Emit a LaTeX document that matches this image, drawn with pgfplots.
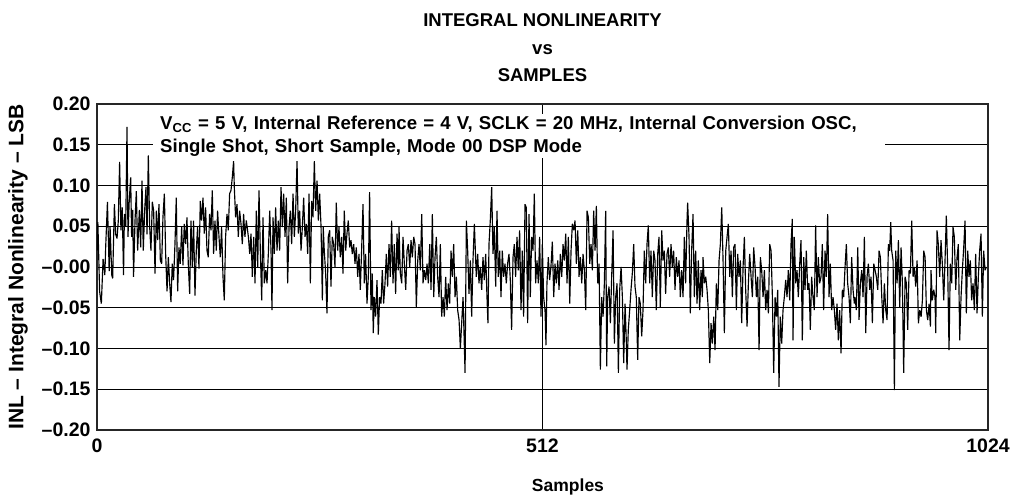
\documentclass[border=0pt]{standalone}
\usepackage{pgfplots}
\pgfplotsset{compat=1.18}
\usepackage{fontspec}
\setmainfont{Liberation Sans}
\begin{document}
\begin{tikzpicture}
\begin{axis}[
  name=ax,
  scale only axis,
  width=891pt, height=326pt,
  xmin=0, xmax=1024, ymin=-0.2, ymax=0.2,
  axis line style={line width=1.8pt, color=black!85},
  xtick={0,512,1024}, xticklabels={0,512,1024},
  ytick={-0.2,-0.15,-0.1,-0.05,0,0.05,0.1,0.15,0.2},
  yticklabels={–0.20,–0.15,–0.10,–0.05,–0.00,0.05,0.10,0.15,0.20},
  major tick length=0pt,
  xmajorgrids, ymajorgrids,
  grid style={line width=0.8pt, color=black},
  tick label style={font=\fontsize{19.5}{22}\selectfont\bfseries},
  xticklabel style={yshift=-5pt},
  yticklabel style={xshift=-3pt},
  title={INTEGRAL NONLINEARITY\\vs\\SAMPLES},
  title style={align=center, font=\fontsize{18.5}{27.5}\selectfont\bfseries, at={(axis description cs:0.5,1)}, anchor=south, yshift=16pt, inner sep=0pt},
  xlabel={Samples},
  xlabel style={font=\fontsize{17.5}{21}\selectfont\bfseries, at={(axis description cs:0.5286,-0.175)}, anchor=center},
  ylabel={INL – Integral Nonlinearity – LSB},
  ylabel style={font=\fontsize{21}{23}\selectfont\bfseries, at={(axis description cs:-0.0887,0.5)}, anchor=center, rotate=0},
]
\node[fill=white, anchor=north west, inner xsep=7pt, inner ysep=2pt, text width=718pt, align=left,
  font=\fontsize{18.6}{23}\selectfont\bfseries] at (axis cs:64.4,0.188)
  {V\textsubscript{CC} = 5 V, Internal Reference = 4 V, SCLK = 20 MHz, Internal Conversion OSC,\\Single Shot, Short Sample, Mode 00 DSP Mode};
\addplot[black, line width=1.15pt, mark=none, line join=miter, miter limit=3] coordinates {
(0,0.02) (1,0.055) (3,-0.03) (5,-0.045) (7,0.01) (9,-0.01) (10,0.025) (12,0.08) (14,-0.005) (15,0.05) (17,-0.01) (18,-0.014) (20,0.077) (21.5,0.04) (23,0.035) (24.5,0.057) (26,0.129) (27.5,0.045) (29,0.073) (30.5,-0.01) (31.5,0.065) (33,0.05) (34.5,0.172) (35.6,0.037) (37,0.08) (38.7,0.11) (39.8,0.037) (41,0.07) (42,-0.012) (43.7,0.057) (45.2,0.093) (46.7,0.02) (48.7,0.07) (50.2,0.024) (51.7,0.106) (53.2,0.02) (54.8,0.07) (56.3,0.098) (57.5,0.04) (59,0.137) (60.5,0.05) (62,0.02) (63.6,0.08) (65.1,0.069) (66.7,-0.008) (68.2,0.069) (69.7,0.033) (71.2,0.077) (72.8,0.008) (74.3,0.004) (75.8,0.061) (77.4,0.09) (78.9,0.016) (80.5,-0.03) (82,0.012) (83.5,-0.02) (85,-0.043)
(86.5,0.004) (88,-0.016) (89.6,0.028) (91.1,0.085) (92.7,-0.03) (94.2,0.024) (95.7,0.004) (97.3,0.049) (98.8,0.002) (100.3,0.053) (101.9,0.028) (103.4,0.061) (104.9,0.004) (106.5,-0.033) (108,0.057) (109.5,0) (111,0.057) (112.6,-0.035) (114.1,0.02) (115.6,0.049) (117.2,-0.002) (118.7,0.081) (120.2,0.057) (121.8,0.085) (123.3,0.041) (124.8,0.073) (126.4,0.02) (127.9,0.012) (129.4,0.065) (131,0.045) (132.5,0.094) (134,0.016) (135.6,0.057) (137.1,0.02) (138.6,0.069) (140.2,0.037) (141.7,0.012) (143.2,0.049) (144.8,-0.012) (146.3,-0.041) (147.8,0.037) (149.4,0.065) (150.9,0.045) (152.4,0.09) (154,0.094) (155.5,0.11) (157,0.13) (157.8,0.098) (159.3,0.061) (160.9,0.077) (162.4,0.037) (163.9,0.069) (165.5,0.053) (167,0.028) (168.5,0.065) (170,0.037) (171.6,0.057)
(174,0.037) (175.5,0.016) (177,0.041) (178.5,-0.012) (180.1,0.037) (181.6,-0.02) (183.1,0.069) (184.7,0) (186.2,0.094) (187.7,0.02) (189.3,-0.041) (190.8,0.061) (192.3,-0.02) (193.9,-0.004) (195.4,-0.02) (196.9,0.016) (198.5,0.069) (200,0.02) (201.1,-0.053) (202.3,0.061) (203.8,0.016) (205.3,0.073) (206.9,0.02) (208.4,0.057) (209.9,0.02) (211.5,0.098) (213,0.049) (214.5,0.09) (216.1,0.037) (217.6,0.085) (219.1,-0.02) (220.7,0.049) (222.2,0.069) (223.7,0.028) (225.3,0.09) (226.8,0.037) (228.3,0.069) (229.9,0.13) (231.4,0.041) (232.9,0.069) (234.5,0.02) (236,0.049) (237.5,0.085) (239.1,0.037) (240.6,0.053) (242.1,0.016) (243.7,0.09) (245.2,-0.02) (246.7,0.081) (248.2,0.061) (249.8,0.13) (251.3,0.069) (252.9,0.106) (254.4,0.057) (255.9,0.09) (257.5,0.049) (259,-0.041)
(260,0.049) (261.2,0.02) (262.8,-0.008) (264.3,-0.057) (265.8,0.037) (267.4,0.045) (268.9,-0.024) (270.4,0.037) (272,0.028) (273.5,0) (275,0.079) (276.6,0.02) (278.1,0.049) (279.6,0.012) (281.2,0.037) (282.7,-0.008) (284.2,0.069) (285.8,0.02) (287.3,0.041) (288.8,0.057) (290.4,0.024) (291.9,0.033) (293.4,0.016) (295,0.028) (296.5,0.004) (298,0.024) (299.6,-0.012) (301.1,0.016) (302.6,-0.028) (304.1,0.02) (305.7,0.077) (307.2,-0.02) (308.7,0.016) (310.3,-0.045) (311.8,-0.012) (313.3,0.092) (314.9,-0.053) (316.4,-0.008) (317.5,-0.081) (318.7,-0.037) (320.2,-0.061) (321.8,-0.016) (323.3,-0.083) (324.8,-0.037) (326.4,-0.045) (327.9,-0.004) (329.4,-0.045) (331,-0.02) (332.5,0.016) (334,-0.024) (335.6,0.028) (337.1,-0.012) (338.6,0.057) (340.2,-0.02) (341.7,0.028) (343.2,-0.033) (344.8,0.041) (346.3,-0.004)
(347.1,0.049) (348.6,-0.008) (350.2,-0.02) (351.7,0.037) (353.2,0.004) (354.8,-0.028) (356.3,0.02) (357.8,0.028) (359.4,0) (360.9,0.033) (362.4,0.012) (364,0.037) (365.5,0.028) (367,-0.049) (368.6,0.008) (370.1,0.028) (371.6,-0.004) (373.2,0.065) (374.7,-0.02) (376.2,-0.004) (377.8,-0.016) (379.3,0.004) (380.8,-0.02) (382.4,0.028) (383.9,-0.028) (385.4,0.065) (387,-0.037) (388.5,0.012) (390,0.037) (391.5,-0.012) (393.1,-0.037) (394.6,0.028) (396.1,-0.061) (397.7,-0.037) (399.2,-0.061) (400.7,-0.012) (402.3,-0.053) (403.8,-0.02) (405.3,-0.045) (406.9,0.02) (408.4,-0.012) (409.9,0.028) (411.5,-0.037) (413,-0.012) (414.5,-0.053) (416.1,-0.065) (417.6,-0.1) (419.1,-0.069) (420.7,-0.037) (422.2,-0.098) (423,-0.13) (424.5,0.057) (426,0.02) (427.5,-0.033) (429.1,0.008) (430.6,-0.061) (432.1,0.008) (433.7,0.053)
(435.9,-0.012) (437.5,0.016) (439,-0.02) (440.5,0) (442.1,-0.028) (443.6,0.012) (445.1,-0.016) (446.7,0.016) (448.2,-0.037) (449.3,-0.069) (450.5,0.028) (452,0.057) (453.6,0.098) (455.1,0.016) (456.6,0.049) (458.2,-0.024) (459.7,0.069) (461.2,-0.012) (462.8,0.02) (464.3,-0.037) (465.8,0.02) (467.3,-0.012) (468.9,0.004) (470.4,-0.02) (471.9,0.004) (473.5,0.016) (475,-0.016) (476.5,-0.077) (478.1,0.012) (479.6,0.028) (481.1,-0.012) (482.7,0.037) (484.2,-0.004) (485.7,0.045) (487.3,-0.053) (488.8,0.02) (490.3,-0.061) (491.9,0.077) (493.4,0.073) (494.9,-0.069) (496.5,0.065) (498,-0.037) (499.5,0.037) (501.1,0.02) (502.6,0.09) (504.1,-0.02) (505.7,0.008) (507.2,-0.02) (508.7,0.037) (510.3,-0.061) (511.8,0.028) (513.3,-0.037) (514.9,-0.053) (516,-0.096) (517.1,-0.02) (518.7,0.012) (520.2,-0.016) (521.7,0)
(523.3,0.031) (524.9,-0.037) (526.4,0.004) (527.9,-0.02) (529.5,0.008) (531,-0.028) (532.5,0.016) (534.1,-0.012) (535.6,0.028) (537.1,0.008) (538.7,0.041) (540.2,-0.02) (541.7,0.037) (543.3,-0.045) (544.8,0.02) (546.3,0.053) (547.9,0.045) (549.4,0.057) (550.9,0.004) (552.5,0.045) (554,-0.012) (555.5,0.012) (557.1,-0.02) (558.6,0.016) (560.1,-0.004) (561.7,-0.053) (563.2,0.069) (564.7,0.061) (566.3,0.004) (567.8,0.028) (569.3,-0.004) (570.8,0.069) (572.4,0.02) (573.9,0.075) (575.4,-0.02) (577,0.004) (578.5,-0.126) (580,-0.037) (581.6,-0.061) (583.1,-0.02) (584.6,0.069) (585.8,-0.122) (586.9,-0.037) (588.5,-0.024) (590,-0.069) (591.5,-0.012) (593.1,0.045) (594.6,-0.094) (596.1,-0.037) (597.7,-0.02) (599.2,-0.13) (600.7,-0.028) (602.3,0) (603.8,-0.037) (605.3,-0.118) (606.9,-0.045) (608.4,-0.094)
(609.1,-0.126) (610.6,-0.077) (612.2,-0.053) (613.7,-0.028) (615.2,-0.008) (616.8,0.028) (618.3,-0.024) (619.8,-0.037) (621.4,-0.114) (622.9,-0.037) (624.4,-0.045) (626,-0.085) (627.5,-0.053) (629,0.02) (630.6,-0.02) (632.1,0.028) (633.6,0.051) (635.2,-0.02) (636.7,0.02) (638.2,-0.037) (639.8,0.02) (641.3,0.008) (642.8,-0.053) (644.4,0.016) (645.9,0.037) (647.4,-0.049) (649,0.045) (650.5,0.008) (652,0.02) (653.5,-0.033) (655.1,0.016) (656.6,0.024) (658.1,-0.012) (659.7,0.028) (661.2,0) (662.7,0.02) (664.3,-0.028) (665.8,0.012) (667.3,-0.012) (668.9,0.008) (670.4,-0.037) (671.9,-0.004) (673.5,-0.037) (675,0.037) (676.5,-0.02) (678.1,0.057) (678.8,0.079) (680.4,0.037) (681.9,-0.057) (683.4,0.02) (685,0.065) (686.5,-0.037) (688,0.02) (689.6,-0.045) (691.1,0.008) (692.6,-0.053) (694.2,-0.004) (695.7,-0.037)
(696.5,0.012) (698,-0.02) (699.6,-0.012) (701.1,-0.028) (702.6,-0.053) (704.2,-0.118) (705.7,-0.069) (707.2,-0.094) (708.8,-0.061) (710.3,-0.102) (711.8,-0.02) (713.4,-0.053) (714.9,0.008) (716.4,0.028) (718,0.073) (719.5,0.008) (721,-0.081) (722.6,0.02) (724.1,0.037) (725.6,0.053) (727.2,-0.012) (728.7,0.02) (730.2,-0.037) (731.7,0.024) (733.3,0.028) (734.8,-0.053) (736.3,0.016) (737.9,-0.012) (739.4,0.008) (740.9,-0.069) (742.5,0) (744,0.037) (745.5,-0.028) (747.1,-0.073) (748.6,-0.02) (750.1,0.016) (751.7,-0.012) (753.2,-0.037) (754.7,0.024) (756.3,0) (757.8,-0.037) (759.3,-0.012) (760.9,-0.102) (762.4,0.012) (763.9,-0.004) (765.5,-0.037) (767,-0.004) (768.5,-0.053) (770.1,-0.028) (771.6,-0.057) (773.1,0.028) (774.7,0.02) (776.2,-0.037) (777.7,-0.13) (779.3,-0.037) (780.8,-0.061) (782.3,-0.028) (783.8,-0.147)
(785.3,-0.061) (786.9,-0.094) (788.4,-0.053) (789.9,-0.037) (791.5,-0.016) (793,-0.037) (794.5,-0.004) (796.1,-0.041) (797.6,0.028) (799.1,0.059) (799.9,-0.09) (801.4,0.037) (803,-0.02) (804.5,-0.004) (806,-0.037) (807.6,0.004) (809.1,0.033) (810.6,-0.09) (812.2,0.012) (813.7,-0.028) (815.2,0.02) (816.8,-0.028) (818.3,-0.02) (819.8,-0.077) (821.3,-0.012) (822.9,-0.037) (824.4,-0.053) (825.9,0.051) (827.5,-0.037) (829,0.012) (830.5,-0.02) (832.1,-0.012) (833.6,0.028) (835.1,-0.053) (836.7,0.02) (838.2,-0.012) (839.7,0.065) (841.3,-0.037) (842.8,0.004) (844.3,-0.053) (845.9,-0.037) (847.4,-0.053) (848.9,-0.077) (850.5,-0.045) (852,-0.09) (853.5,-0.053) (855.1,-0.106) (856.6,-0.028) (858.1,-0.037) (859.7,0) (861.2,0.028) (862.7,-0.02) (864.3,-0.037) (865.8,-0.069) (867.3,0.012) (868.9,-0.028) (870.4,-0.045)
(871.2,-0.037) (872.7,-0.053) (874.3,0.024) (875.8,-0.065) (877.3,-0.02) (878.9,-0.004) (880.4,-0.037) (881.9,0.037) (883.5,-0.081) (885,-0.012) (886.5,0.004) (888.1,-0.028) (889.6,-0.012) (891.1,-0.069) (892.7,0.004) (894.2,-0.004) (895.7,-0.012) (897.3,-0.028) (898.8,0.02) (900.3,0.012) (901.9,-0.037) (903.4,-0.069) (904.9,-0.02) (906.5,-0.053) (908,-0.065) (909.5,0.028) (911,0.02) (912.2,0.055) (913.3,0.02) (914.9,0.008) (916.4,-0.151) (917.9,0.02) (919.5,-0.02) (921,0.033) (922.5,-0.049) (924.1,0.024) (925.6,-0.02) (927.1,-0.13) (928.7,-0.012) (930.2,-0.02) (931.7,-0.077) (933.3,-0.004) (934.8,-0.008) (936.3,0.057) (937.9,-0.012) (939.4,0) (940.9,-0.024) (942.5,0.008) (944,-0.069) (945.5,-0.053) (947.1,-0.061) (948.6,-0.041) (950.1,0.02) (951.7,0.012) (953.2,-0.053) (954.7,-0.065) (956.3,-0.045) (957.8,-0.073)
(958.5,-0.004) (960,-0.041) (961.6,-0.028) (963.1,-0.037) (963.9,-0.081) (965.4,0.045) (966.9,0.028) (968.5,-0.012) (970,0.033) (971.5,0.004) (973.1,-0.041) (974.6,0.008) (976.1,0.063) (977.7,-0.004) (979.2,-0.102) (980.7,0.004) (982.3,-0.02) (983.8,0.049) (985.3,0.037) (986.9,-0.028) (988.4,0.012) (989.9,0.028) (991.5,-0.09) (993,-0.037) (994.5,-0.004) (996.1,0.024) (997.6,0.057) (999.1,-0.057) (1000.7,0.02) (1002.2,-0.012) (1003.7,0.008) (1005.2,-0.041) (1006.8,-0.02) (1008.3,-0.053) (1009.8,0.016) (1011.4,-0.057) (1012.9,-0.012) (1014.4,0.02) (1016,0.041) (1017.5,-0.061) (1019,0.02) (1020.6,-0.004) (1022.1,0)
};
\end{axis}
\pgfresetboundingbox
\path[use as bounding box] (ax.south west) ++(-97pt,-69pt) rectangle ([shift={(25pt,104pt)}]ax.north east);
\end{tikzpicture}
\end{document}
